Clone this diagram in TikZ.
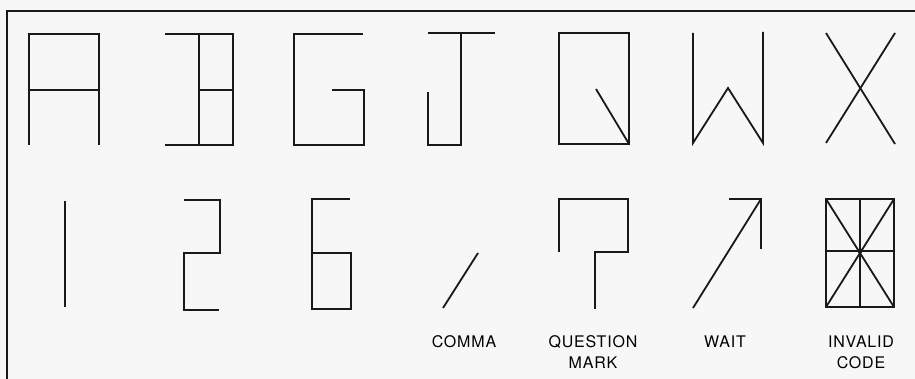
\documentclass[tikz,border=0pt]{standalone}
\usepackage{fontspec}
\setmainfont[LetterSpace=5]{TeX Gyre Heros}
\begin{document}
\begin{tikzpicture}[x=1pt,y=-1pt,
  glyph/.style={line width=1.8pt,line join=miter,line cap=butt,black!90},
  frame/.style={line width=2.6pt,black!90},
  lab/.style={font=\fontsize{16}{21}\selectfont,align=center,inner sep=0pt,text=black}]
\fill[black!3] (0,0) rectangle (915,379);
\useasboundingbox (0,0) rectangle (915,379);
% frame (left and top edges)
\draw[frame] (7,379) -- (7,11) -- (915,11);
% A
\draw[glyph] (29,145) -- (29,34) -- (99,34) -- (99,145);
\draw[glyph] (29,90) -- (99,90);
% B
\draw[glyph] (165,34) -- (233,34) -- (233,145) -- (165,145);
\draw[glyph] (199,34) -- (199,145);
\draw[glyph] (199,90) -- (233,90);
% G
\draw[glyph] (363,34) -- (294,34) -- (294,145) -- (364,145) -- (364,90) -- (332,90);
% J
\draw[glyph] (428,33) -- (495,33);
\draw[glyph] (461,33) -- (461,145) -- (428,145) -- (428,92);
% Q
\draw[glyph] (559,33) rectangle (629,144);
\draw[glyph] (596,89) -- (629,144);
% W
\draw[glyph] (693,33) -- (693,143) -- (728,88) -- (763,143) -- (763,32);
% X
\draw[glyph] (826,33) -- (895,144);
\draw[glyph] (895,33) -- (826,143);
% 1
\draw[glyph] (65,201) -- (65,307);
% 2
\draw[glyph] (184,200) -- (220,200) -- (220,253) -- (184,253) -- (184,310) -- (219,310);
% 6
\draw[glyph] (350,199) -- (312,199) -- (312,309) -- (351,309) -- (351,253) -- (312,253);
% comma
\draw[glyph] (443,308) -- (478,253);
\node[lab] (comma) at (464,342) {COMMA};
% question mark
\draw[glyph] (559,252) -- (559,199) -- (628,199) -- (628,252) -- (595,252) -- (595,309);
\node[lab] (qm) at (593,352) {QUESTION\\MARK};
% wait
\draw[glyph] (729,199) -- (761,199) -- (761,249);
\draw[glyph] (693,308) -- (761,199);
\node[lab] (wait) at (725,342) {WAIT};
% invalid code
\draw[glyph] (826,199) rectangle (894,307);
\draw[glyph] (860,199) -- (860,307);
\draw[glyph] (826,251) -- (894,251);
\draw[glyph] (826,199) -- (894,307);
\draw[glyph] (894,199) -- (826,307);
\fill[black!90] (860,251) circle (2.6);
\node[lab] (inv) at (861,352) {INVALID\\CODE};
\end{tikzpicture}
\end{document}
